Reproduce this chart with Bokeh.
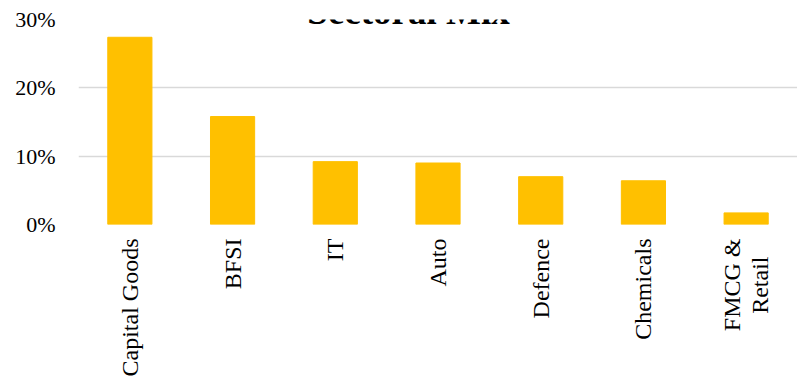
from bokeh.plotting import figure
from bokeh.models import FactorRange, Range1d, FixedTicker, Label, NumeralTickFormatter, ColumnDataSource
from bokeh.embed import file_html
from bokeh.resources import INLINE
import math

categories = ["Capital Goods", "BFSI", "IT", "Auto", "Defence", "Chemicals", "FMCG &\nRetail\u00a0\u00a0\u00a0"]
shares = [0.274, 0.158, 0.092, 0.090, 0.070, 0.064, 0.017]
y_ticks = [0.0, 0.1, 0.2, 0.3]
title_text = "Sectoral Mix"

src = ColumnDataSource(dict(cat=categories, val=shares))

p = figure(
    width=797, height=379,
    x_range=FactorRange(factors=categories),
    y_range=Range1d(0, 0.3),
    output_backend="svg", toolbar_location=None,
    min_border_left=78, min_border_right=0, min_border_top=19, min_border_bottom=154,
)
p.outline_line_color = None
p.background_fill_color = "white"
p.border_fill_color = "white"

p.vbar(x="cat", top="val", width=0.43, source=src, fill_color="#FFC000", line_color="#FFC000")

p.xgrid.grid_line_color = None
p.ygrid.grid_line_color = "#D9D9D9"
p.ygrid.grid_line_width = 1.5

p.yaxis.ticker = FixedTicker(ticks=y_ticks)
p.yaxis.formatter = NumeralTickFormatter(format="0%")
p.yaxis.axis_line_color = None
p.yaxis.major_tick_line_color = None
p.yaxis.minor_tick_line_color = None
p.yaxis.major_tick_out = 0
p.yaxis.major_tick_in = 0
p.yaxis.major_label_standoff = 23
p.yaxis.major_label_text_font = "Liberation Serif"
p.yaxis.major_label_text_font_size = "22px"
p.yaxis.major_label_text_color = "#000000"

p.xaxis.axis_line_color = None
p.xaxis.major_tick_line_color = None
p.xaxis.major_tick_out = 0
p.xaxis.major_tick_in = 0
p.xaxis.major_label_standoff = 14
p.xaxis.major_label_orientation = math.pi / 2
p.xaxis.major_label_text_font = "Liberation Serif"
p.xaxis.major_label_text_font_size = "24px"
p.xaxis.major_label_text_color = "#000000"
p.xaxis.major_label_text_line_height = 1.1

title = Label(x=330, y=213, x_units="screen", y_units="screen", text=title_text,
              text_font="Liberation Serif", text_font_size="37px", text_font_style="bold",
              text_color="#000000", text_align="center", text_baseline="alphabetic")
p.add_layout(title)

open("out.html", "w").write(file_html(p, INLINE))
